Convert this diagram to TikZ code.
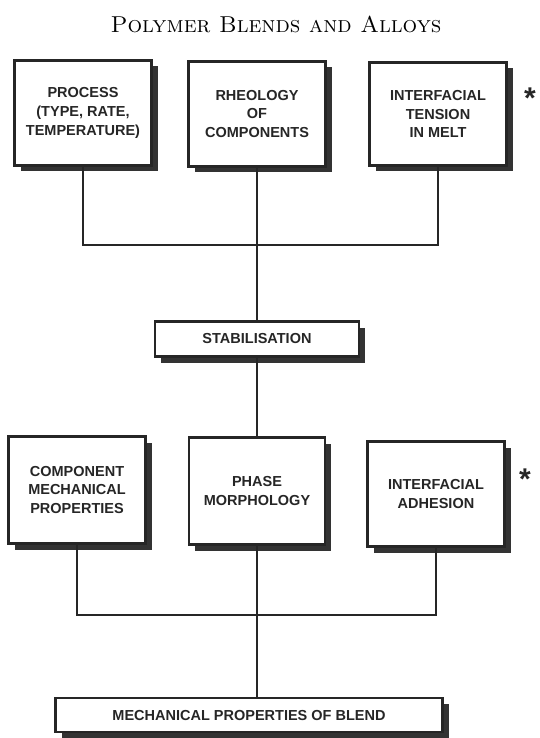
\documentclass[tikz,border=0pt]{standalone}
\usepackage{fontspec}
\setsansfont{Liberation Sans}
\usetikzlibrary{shadows}
\tikzset{
  box/.style={draw=black!85, line width=2.2pt, fill=white, text=black!85,
    align=center, inner sep=2pt,
    font=\sffamily\bfseries\fontsize{14.5}{18.6}\selectfont,
    drop shadow={shadow xshift=6pt, shadow yshift=-6pt, fill=black!80, opacity=1}},
  bigbox/.style={box, minimum width=137pt, minimum height=105pt},
  barbox/.style={box, minimum height=35pt},
  wire/.style={draw=black!85, line width=2pt},
  starmark/.style={text=black!85, font=\sffamily\bfseries\fontsize{30}{30}\selectfont}
}
\begin{document}
\begin{tikzpicture}[x=1pt, y=-1pt]
            \useasboundingbox (0,0) rectangle (539,738);
            % Titel
            \node (title) at (276,24) {\fontsize{23}{23}\selectfont\textsc{Polymer Blends and Alloys}};
            % obere Reihe
            \node[bigbox] (process) at (83,113) {PROCESS\\(TYPE, RATE,\\TEMPERATURE)};
            \node[bigbox] (rheology) at (257,114) {RHEOLOGY\\OF\\COMPONENTS};
            \node[bigbox, minimum height=103pt] (tension) at (438,114) {INTERFACIAL\\TENSION\\IN MELT};
            \node[starmark] (startop) at (530,98) {*};
            % Stabilisierung
            \node[barbox, minimum width=204pt] (stab) at (257,339) {STABILISATION};
            % untere Reihe
            \node[bigbox, minimum height=107pt] (comp) at (77,490) {COMPONENT\\MECHANICAL\\PROPERTIES};
            \node[bigbox, minimum width=136pt, minimum height=107pt] (phase) at (257,491) {PHASE\\MORPHOLOGY};
            \node[bigbox] (adhesion) at (436,494) {INTERFACIAL\\ADHESION};
            \node[starmark] (starbot) at (525,479) {*};
            % Ergebnis
            \node[barbox, minimum width=387pt, minimum height=34pt] (mech) at (249,715) {MECHANICAL PROPERTIES OF BLEND};
            % Verbindungen oben
            \coordinate (jtop) at (rheology.south |- 0,245);
            \draw[wire] (process.south) |- (jtop) -| (tension.south);
            \draw[wire] (rheology.south) -- (stab.north);
            \draw[wire] (stab.south) -- (phase.north);
            % Verbindungen unten
            \coordinate (jbot) at (phase.south |- 0,615);
            \draw[wire] (comp.south) |- (jbot) -| (adhesion.south);
            \draw[wire] (phase.south) -- (jbot);
            \draw[wire] (jbot) -- (jbot |- mech.north);
\end{tikzpicture}
\end{document}
